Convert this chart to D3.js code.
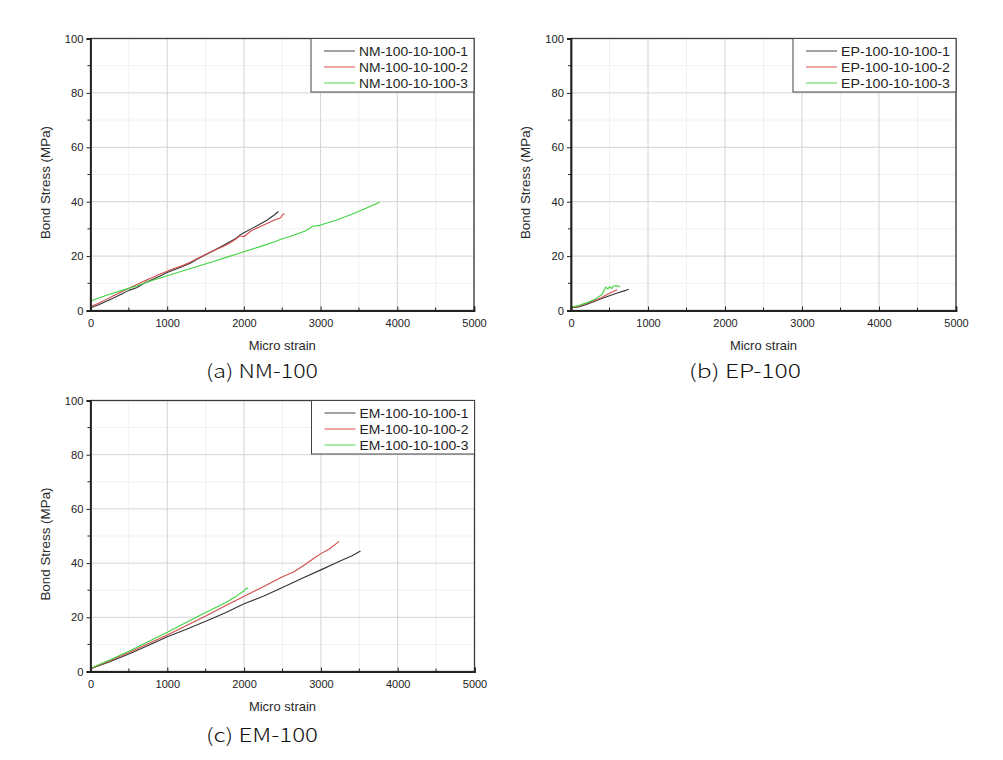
<!DOCTYPE html>
<html>
<head>
<meta charset="utf-8">
<script src="https://cdn.jsdelivr.net/npm/d3@7"></script>
<style>
  html, body { margin: 0; padding: 0; background: #fff; }
  svg { display: block; }
</style>
</head>
<body>
<svg id="chart" width="1003" height="760"></svg>
<script>
// ---------------- DATA ----------------
const xTicks = [0, 1000, 2000, 3000, 4000, 5000];
const yTicks = [0, 20, 40, 60, 80, 100];
const xMinor = [500, 1500, 2500, 3500, 4500];
const yMinor = [10, 30, 50, 70, 90];

const nmNames = ["NM-100-10-100-1", "NM-100-10-100-2", "NM-100-10-100-3"];
const epNames = ["EP-100-10-100-1", "EP-100-10-100-2", "EP-100-10-100-3"];
const emNames = ["EM-100-10-100-1", "EM-100-10-100-2", "EM-100-10-100-3"];
const captions = ["(a)  NM-100", "(b)  EP-100", "(c)  EM-100"];

// [micro strain, bond stress MPa]
const nm1 = [[0,1],[100,2],[200,3.3],[300,4.6],[400,6],[500,7.4],[600,8.4],[700,10],[800,11.3],[900,12.6],[1000,14],[1100,15.1],[1200,16.2],[1300,17.4],[1400,19],[1500,20.5],[1600,22],[1700,23.4],[1800,25],[1900,26.6],[1950,27.8],[2000,28.6],[2100,30.1],[2200,31.6],[2300,33.2],[2400,35.2],[2450,36.4]];
const nm2 = [[0,1.5],[100,2.6],[200,4],[300,5.4],[400,6.8],[500,8.2],[600,9.5],[700,10.8],[800,12],[900,13.3],[1000,14.4],[1100,15.5],[1200,16.5],[1300,17.7],[1400,19.2],[1500,20.6],[1600,22],[1700,23.2],[1800,24.5],[1900,26.4],[1950,27.5],[2000,27.1],[2050,28.3],[2100,29.4],[2200,30.7],[2300,32],[2400,33.3],[2480,34.1],[2500,35.2],[2530,35.6]];
const nm3 = [[0,3.5],[200,5.5],[400,7.3],[600,9],[800,11],[1000,12.8],[1200,14.5],[1400,16.3],[1600,18],[1800,19.8],[2000,21.6],[2200,23.4],[2400,25.3],[2500,26.4],[2600,27.2],[2800,29.2],[2900,31],[3000,31.4],[3200,33.2],[3400,35.3],[3600,37.7],[3770,39.8]];

const ep1 = [[0,1],[100,1.3],[200,2.2],[300,3.3],[400,4.4],[500,5.4],[600,6.4],[700,7.3],[750,7.8]];
const ep2 = [[0,1],[100,1.6],[200,2.6],[300,3.6],[400,4.8],[450,5.6],[500,6.3],[550,7],[600,7.6]];
const ep3 = [[0,1.2],[100,1.8],[200,2.8],[300,4],[400,5.8],[430,7.4],[450,8.6],[480,7.9],[500,8.8],[530,8.1],[550,9],[600,9.1],[640,8.6]];

const em1 = [[0,1],[250,3.6],[500,6.5],[750,9.6],[1000,12.8],[1250,15.6],[1500,18.5],[1750,21.6],[2000,25],[2250,27.8],[2500,31],[2750,34.3],[3000,37.5],[3250,40.8],[3400,42.6],[3516,44.5]];
const em2 = [[0,1],[250,4],[500,7],[750,10.2],[1000,13.5],[1250,17],[1500,20.5],[1750,24.2],[2000,27.8],[2250,31.3],[2500,35],[2650,36.8],[2800,39.6],[2900,41.6],[3000,43.5],[3100,45],[3200,47.2],[3237,48]];
const em3 = [[0,1.2],[250,4.2],[500,7.5],[750,11],[1000,14.5],[1250,18.2],[1500,21.8],[1750,25.3],[1900,27.8],[2000,29.8],[2030,30.8],[2052,30.5]];

const seriesColors = ["#333333", "#d24b4b", "#3fd33f"];
const legendColors = ["#666666", "#e06a6a", "#6ee06e"];

// ---------------- DRAW ----------------
const svg = d3.select("#chart");
const font = "'Liberation Sans', Arial, sans-serif";

const panels = [
  { box: [90.5, 474, 38.5, 310.5], names: nmNames, series: [nm1, nm2, nm3], cap: captions[0], capX: 262, capY: 378 },
  { box: [571, 956, 38.5, 310.5], names: epNames, series: [ep1, ep2, ep3], cap: captions[1], capX: 745, capY: 378 },
  { box: [90.5, 474.5, 400.5, 671.5], names: emNames, series: [em1, em2, em3], cap: captions[2], capX: 262, capY: 742 }
];

panels.forEach(p => {
  const [L, R, T, B] = p.box;
  const x = d3.scaleLinear().domain([0, 5000]).range([L, R]);
  const y = d3.scaleLinear().domain([0, 100]).range([B, T]);
  const g = svg.append("g");

  // minor grid
  g.selectAll(".mgx").data(xMinor).enter().append("line")
    .attr("x1", d => x(d)).attr("x2", d => x(d)).attr("y1", T).attr("y2", B)
    .attr("stroke", "#f1f1f1").attr("stroke-width", 1);
  g.selectAll(".mgy").data(yMinor).enter().append("line")
    .attr("y1", d => y(d)).attr("y2", d => y(d)).attr("x1", L).attr("x2", R)
    .attr("stroke", "#f1f1f1").attr("stroke-width", 1);
  // major grid
  g.selectAll(".gx").data(xTicks).enter().append("line")
    .attr("x1", d => x(d)).attr("x2", d => x(d)).attr("y1", T).attr("y2", B)
    .attr("stroke", "#d4d4d4").attr("stroke-width", 1);
  g.selectAll(".gy").data(yTicks).enter().append("line")
    .attr("y1", d => y(d)).attr("y2", d => y(d)).attr("x1", L).attr("x2", R)
    .attr("stroke", "#d4d4d4").attr("stroke-width", 1);

  // series
  const line = d3.line().x(d => x(d[0])).y(d => y(d[1]));
  p.series.forEach((s, i) => {
    g.append("path").datum(s).attr("d", line)
      .attr("fill", "none").attr("stroke", seriesColors[i])
      .attr("stroke-width", 1.1).attr("stroke-linejoin", "round");
  });

  // frame
  g.append("rect").attr("x", L).attr("y", T).attr("width", R - L).attr("height", B - T)
    .attr("fill", "none").attr("stroke", "#3a3a3a").attr("stroke-width", 1.3);

  // x axis
  const xAxis = d3.axisBottom(x).tickValues(xTicks).tickSize(-4).tickPadding(9)
    .tickFormat(d3.format("d"));
  const xa = g.append("g").attr("transform", `translate(0,${B})`).call(xAxis);
  xa.select(".domain").attr("stroke", "#222").attr("stroke-width", 1.8);
  xa.selectAll(".tick line").attr("stroke", "#222");
  xa.selectAll(".tick text").attr("font-family", font).attr("font-size", 11).attr("fill", "#222");
  g.selectAll(".mtx").data(xMinor).enter().append("line")
    .attr("x1", d => x(d)).attr("x2", d => x(d)).attr("y1", B).attr("y2", B - 3)
    .attr("stroke", "#222");

  // y axis
  const yAxis = d3.axisLeft(y).tickValues(yTicks).tickSize(4).tickPadding(3);
  const ya = g.append("g").attr("transform", `translate(${L},0)`).call(yAxis);
  ya.select(".domain").attr("stroke", "#222").attr("stroke-width", 1.8);
  ya.selectAll(".tick line").attr("stroke", "#222");
  ya.selectAll(".tick text").attr("font-family", font).attr("font-size", 11.2).attr("fill", "#222");
  g.selectAll(".mty").data(yMinor).enter().append("line")
    .attr("y1", d => y(d)).attr("y2", d => y(d)).attr("x1", L).attr("x2", L - 3)
    .attr("stroke", "#222");

  // axis titles
  g.append("text").attr("x", (L + R) / 2).attr("y", B + 39)
    .attr("text-anchor", "middle").attr("font-family", font).attr("font-size", 13)
    .attr("fill", "#2a2a2a").text("Micro strain");
  g.append("text").attr("transform", `translate(${L - 41},${(T + B) / 2 + 8}) rotate(-90)`)
    .attr("text-anchor", "middle").attr("font-family", font).attr("font-size", 13.4)
    .attr("fill", "#2a2a2a").text("Bond Stress (MPa)");

  // legend
  const lw = 163, lh = 53.5;
  const lg = g.append("g").attr("transform", `translate(${R - lw},${T})`);
  lg.append("rect").attr("width", lw).attr("height", lh)
    .attr("fill", "#fff").attr("stroke", "#444").attr("stroke-width", 1);
  p.names.forEach((n, i) => {
    const cy = 12.5 + i * 16;
    lg.append("line").attr("x1", 13).attr("x2", 44).attr("y1", cy).attr("y2", cy)
      .attr("stroke", legendColors[i]).attr("stroke-width", 1.2);
    lg.append("text").attr("x", 48).attr("y", cy + 4.5)
      .attr("font-family", font).attr("font-size", 12).attr("fill", "#222")
      .attr("textLength", 109).attr("lengthAdjust", "spacingAndGlyphs").text(n);
  });

  // caption
  svg.append("text").attr("x", p.capX).attr("y", p.capY)
    .attr("text-anchor", "middle")
    .attr("font-family", "'Noto Sans CJK KR', 'Noto Sans', sans-serif")
    .attr("font-size", 19).attr("font-weight", 300).attr("fill", "#111")
    .attr("textLength", 112).attr("lengthAdjust", "spacingAndGlyphs")
    .text(p.cap);
});
</script>
</body>
</html>
